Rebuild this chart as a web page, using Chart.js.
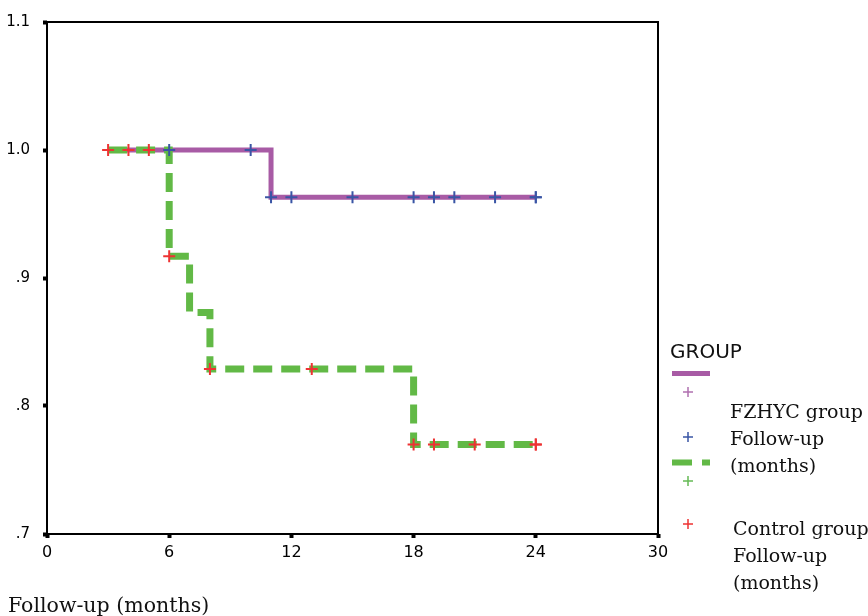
<!DOCTYPE html>
<html>
<head>
<meta charset="utf-8">
<script src="https://cdn.jsdelivr.net/npm/chart.js@4.4.1/dist/chart.umd.min.js"></script>
<style>
  html, body { margin: 0; padding: 0; background: #ffffff; }
  #wrap { width: 868px; height: 616px; position: relative; }
</style>
</head>
<body>
<div id="wrap"><canvas id="km"></canvas></div>
<script>
// Axis ticks
const xTicks = [0, 6, 12, 18, 24, 30];
const yTicks = [0.7, 0.8, 0.9, 1.0, 1.1];

// Kaplan-Meier survival steps (time in months, cumulative survival)
const fzhycTimes = [3, 11, 24];
const fzhycSurv = [1.0, 0.963, 0.963];
const controlTimes = [3, 6, 7, 8, 18, 24];
const controlSurv = [1.0, 0.917, 0.873, 0.829, 0.770, 0.770];

// Censored observations
const fzhycCensorTimes = [6, 10, 11, 12, 15, 18, 19, 20, 22, 24, 24];
const fzhycCensorSurv = [1.0, 1.0, 0.963, 0.963, 0.963, 0.963, 0.963, 0.963, 0.963, 0.963, 0.963];
const controlCensorTimes = [3, 4, 5, 6, 8, 13, 18, 19, 21, 24, 24];
const controlCensorSurv = [1.0, 1.0, 1.0, 0.917, 0.829, 0.829, 0.770, 0.770, 0.770, 0.770, 0.770];

// Legend text
const legendTitle = 'GROUP';
const fzhycLabel = ['FZHYC group', 'Follow-up', '(months)'];
const controlLabel = ['Control group', 'Follow-up', '(months)'];
const xTitle = 'Follow-up (months)';

const PURPLE = '#a85ba5';
const GREEN = '#62b946';
const BLUE = '#3a55a5';
const RED = '#ee3333';

const pts = (xs, ys) => xs.map((x, i) => ({ x: x, y: ys[i] }));

function fmtY(v) {
  const s = v.toFixed(1);
  return s.startsWith('0') ? s.slice(1) : s;
}

// Frame around the plot plus the custom group key and bottom caption
const decorations = {
  id: 'decorations',
  afterDraw(chart) {
    const { ctx, chartArea: a } = chart;
    ctx.save();
    ctx.strokeStyle = '#000';
    ctx.lineWidth = 2;
    ctx.strokeRect(a.left, a.top, a.right - a.left, a.bottom - a.top);

    // caption below the axis
    ctx.fillStyle = '#111';
    ctx.font = '20.5px "DejaVu Serif"';
    ctx.textBaseline = 'alphabetic';
    ctx.textAlign = 'left';
    ctx.fillText(xTitle, 8, 612);

    // group key
    ctx.font = '20px "DejaVu Sans"';
    ctx.fillText(legendTitle, 670, 358);

    ctx.lineCap = 'butt';
    ctx.strokeStyle = PURPLE;
    ctx.lineWidth = 5;
    ctx.beginPath(); ctx.moveTo(672, 373.5); ctx.lineTo(710, 373.5); ctx.stroke();

    ctx.strokeStyle = GREEN;
    ctx.lineWidth = 6;
    ctx.setLineDash([20, 10]);
    ctx.beginPath(); ctx.moveTo(672, 462.5); ctx.lineTo(710, 462.5); ctx.stroke();
    ctx.setLineDash([]);

    const cross = (x, y, c) => {
      ctx.strokeStyle = c;
      ctx.lineWidth = 1.5;
      ctx.beginPath();
      ctx.moveTo(x - 5, y); ctx.lineTo(x + 5, y);
      ctx.moveTo(x, y - 5); ctx.lineTo(x, y + 5);
      ctx.stroke();
    };
    cross(688, 392, '#b070b0');
    cross(688, 437, BLUE);
    cross(688, 481, '#66bb55');
    cross(688, 524, RED);

    ctx.fillStyle = '#111';
    ctx.font = '19px "DejaVu Serif"';
    fzhycLabel.forEach((t, i) => ctx.fillText(t, 730, 418 + i * 27));
    controlLabel.forEach((t, i) => ctx.fillText(t, 733, 535 + i * 27));
    ctx.restore();
  }
};

new Chart(document.getElementById('km'), {
  type: 'scatter',
  data: {
    datasets: [
      {
        label: 'FZHYC censored',
        data: pts(fzhycCensorTimes, fzhycCensorSurv),
        showLine: false,
        pointStyle: 'cross',
        pointRadius: 6,
        pointBorderWidth: 2,
        borderColor: BLUE,
        backgroundColor: BLUE,
        order: 0
      },
      {
        label: 'Control censored',
        data: pts(controlCensorTimes, controlCensorSurv),
        showLine: false,
        pointStyle: 'cross',
        pointRadius: 6,
        pointBorderWidth: 2,
        borderColor: RED,
        backgroundColor: RED,
        order: 1
      },
      {
        label: 'Control group',
        data: pts(controlTimes, controlSurv),
        showLine: true,
        stepped: 'before',
        borderColor: GREEN,
        borderWidth: 7,
        borderDash: [19, 9],
        pointRadius: 0,
        fill: false,
        order: 2
      },
      {
        label: 'FZHYC group',
        data: pts(fzhycTimes, fzhycSurv),
        showLine: true,
        stepped: 'before',
        borderColor: PURPLE,
        borderWidth: 5,
        pointRadius: 0,
        fill: false,
        order: 3
      }
    ]
  },
  options: {
    responsive: true,
    maintainAspectRatio: false,
    animation: false,
    layout: { padding: { left: 0, top: 22, right: 210, bottom: 0 } },
    plugins: {
      legend: { display: false },
      tooltip: { enabled: false },
      title: { display: false }
    },
    scales: {
      x: {
        type: 'linear',
        min: xTicks[0],
        max: xTicks[xTicks.length - 1],
        afterBuildTicks: (s) => { s.ticks = xTicks.map(v => ({ value: v })); },
        afterFit: (s) => { s.height = 82; },
        border: { display: false },
        grid: { drawOnChartArea: false, drawTicks: true, tickLength: 4, tickWidth: 4, tickColor: '#000' },
        ticks: {
          color: '#000',
          font: { family: 'DejaVu Sans', size: 16 },
          padding: 5,
          maxRotation: 0
        }
      },
      y: {
        type: 'linear',
        min: yTicks[0],
        max: yTicks[yTicks.length - 1],
        afterBuildTicks: (s) => { s.ticks = yTicks.map(v => ({ value: v })); },
        afterFit: (s) => { s.width = 47; },
        border: { display: false },
        grid: { drawOnChartArea: false, drawTicks: true, tickLength: 4, tickWidth: 4, tickColor: '#000' },
        ticks: {
          color: '#000',
          font: { family: 'DejaVu Sans', size: 15 },
          padding: 13,
          callback: (v) => fmtY(v)
        }
      }
    }
  },
  plugins: [decorations]
});
</script>
</body>
</html>
